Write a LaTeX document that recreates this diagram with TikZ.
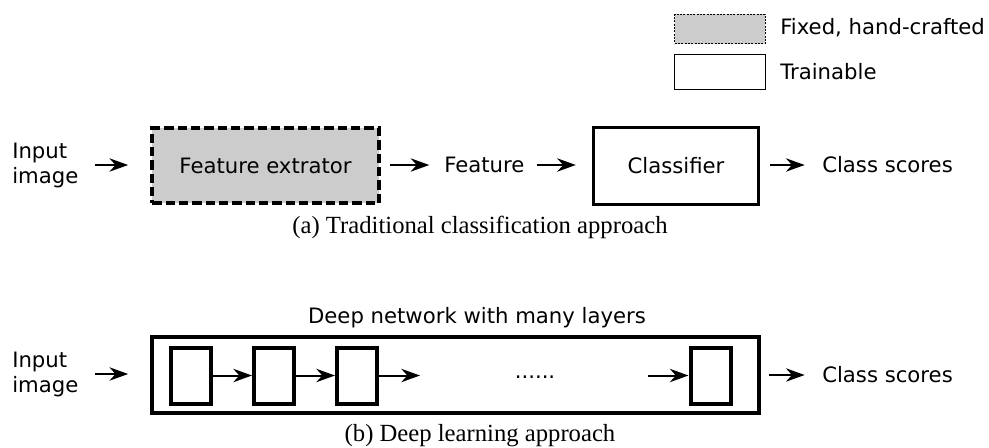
\documentclass[tikz,border=0pt]{standalone}
\usepackage{fontspec}
\setmainfont{DejaVu Sans}
\newfontfamily\capfont{Liberation Serif}
\usetikzlibrary{arrows.meta}
\begin{document}
\begin{tikzpicture}[x=0.75pt,y=-0.75pt,
  lbl/.style={font=\fontsize{15.9}{18.75}\selectfont, inner sep=0pt, anchor=west, align=left},
  ctr/.style={font=\fontsize{15.9}{18.75}\selectfont},
  captxt/.style={font=\capfont\fontsize{18.5}{22}\selectfont, inner sep=0pt},
  arr/.style={line width=1.5pt, -{Stealth[length=14pt,width=10pt,inset=4.5pt]}},
  fixedbox/.style={draw, fill=black!20, line width=3pt, dash pattern=on 7pt off 3pt, inner sep=0pt},
  trainbox/.style={draw, line width=2.25pt, inner sep=0pt},
  deepbox/.style={draw, line width=3pt, inner sep=0pt},
  layer/.style={draw, line width=3pt, minimum width=30pt, minimum height=42pt, inner sep=0pt},
  legfixed/.style={draw, fill=black!20, line width=0.8pt, dash pattern=on 1.6pt off 0.9pt, minimum width=68pt, minimum height=22pt, inner sep=0pt},
  legtrain/.style={draw, line width=0.9pt, minimum width=68pt, minimum height=26pt, inner sep=0pt},
]
\useasboundingbox (0,0) rectangle (989,447);

% legend
\node[legfixed] (lf) at (720,29) {};
\node[lbl] (lft) at (780,28) {Fixed, hand-crafted};
\node[legtrain] (lt) at (720,72) {};
\node[lbl] (ltt) at (780,72) {Trainable};

% (a) traditional
\node[lbl] (in1) at (12,165) {Input\\image};
\node[fixedbox, minimum width=170pt, minimum height=56pt, ctr] (fe) at (265.5,165.5) {Feature extrator};
\node[lbl] (feat) at (444,165) {Feature};
\node[trainbox, minimum width=124pt, minimum height=58pt, ctr] (cls) at (676,166) {Classifier};
\node[lbl] (cs1) at (822,165) {Class scores};
\node[captxt] (capa) at (480,227) {(a) Traditional classification approach};

\draw[arr, shorten <=12pt, shorten >=16.5pt] (in1.east) -- (fe.west |- in1.east);
\draw[arr, shorten <=7pt, shorten >=11pt] (fe.east |- feat.west) -- (feat.west);
\draw[arr, shorten <=9pt, shorten >=12pt] (feat.east) -- (cls.west |- feat.east);
\draw[arr, shorten <=7pt, shorten >=13pt] (cls.east |- cs1.west) -- (cs1.west);

% (b) deep learning
\node[ctr, inner sep=0pt] (dnl) at (477,318) {Deep network with many layers};
\node[deepbox, minimum width=455pt, minimum height=57pt] (deep) at (455.5,375) {};
\node[lbl] (in2) at (12,374) {Input\\image};
\node[layer] (l1) at (191,375.5) {};
\node[layer] (l2) at (274,375.5) {};
\node[layer] (l3) at (357,375.5) {};
\node[layer] (l4) at (710.5,375.5) {};
\coordinate (gapA) at (420,375.5);
\coordinate (gapB) at (648,375.5);
\node[ctr, inner sep=0pt, anchor=base] (dots) at (535,378) {......};
\node[lbl] (cs2) at (822,375) {Class scores};
\node[captxt] (capb) at (480,436) {(b) Deep learning approach};

\draw[arr, shorten <=12pt, shorten >=16.5pt] (in2.east) -- (deep.west |- in2.east);
\draw[arr] (l1) -- (l2);
\draw[arr] (l2) -- (l3);
\draw[arr] (l3) -- (gapA);
\draw[arr] (gapB) -- (l4);
\draw[arr, shorten <=6pt, shorten >=13pt] (deep.east |- cs2.west) -- (cs2.west);
\end{tikzpicture}
\end{document}
